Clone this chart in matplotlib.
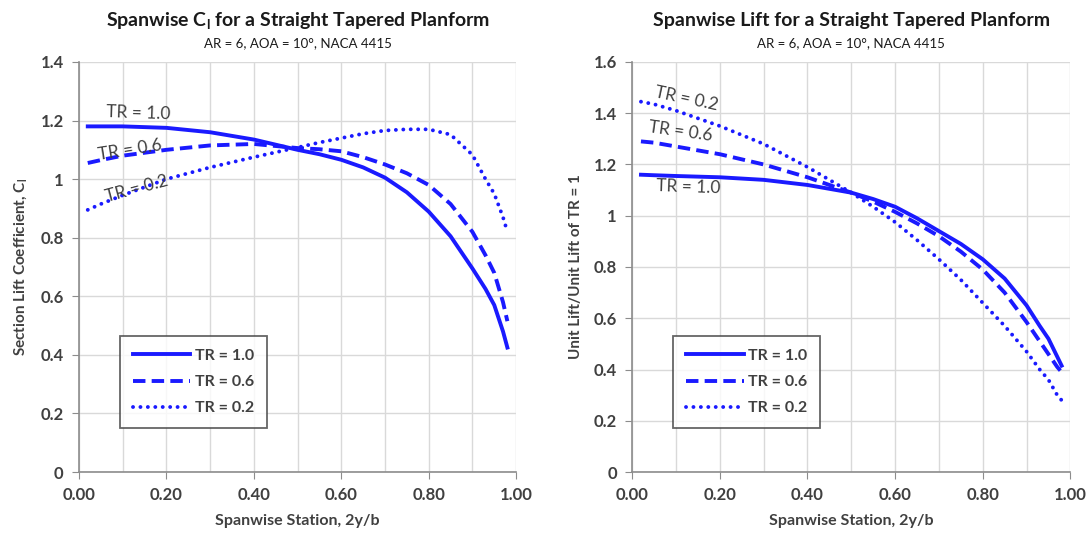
"""Spanwise Cl and unit lift for a straight tapered planform (AR=6, AOA=10 deg)."""

import matplotlib

matplotlib.use("Agg")
import matplotlib.pyplot as plt
from matplotlib.ticker import MultipleLocator

plt.rcParams["font.family"] = ["Lato", "DejaVu Sans"]
plt.rcParams["mathtext.default"] = "regular"

# spanwise station 2y/b
STATION = [0.02, 0.05, 0.10, 0.20, 0.30, 0.40, 0.50, 0.55, 0.60, 0.65, 0.70,
           0.75, 0.80, 0.85, 0.90, 0.93, 0.95, 0.97, 0.98]

# section lift coefficient
CL_TR10 = [1.180, 1.180, 1.180, 1.175, 1.160, 1.135, 1.100, 1.085, 1.066, 1.040,
           1.005, 0.955, 0.889, 0.805, 0.695, 0.625, 0.570, 0.480, 0.425]
CL_TR06 = [1.055, 1.065, 1.080, 1.100, 1.115, 1.120, 1.106, 1.102, 1.095, 1.075,
           1.050, 1.020, 0.980, 0.915, 0.820, 0.740, 0.680, 0.580, 0.515]
CL_TR02 = [0.895, 0.915, 0.945, 1.000, 1.040, 1.075, 1.108, 1.125, 1.140, 1.155,
           1.166, 1.170, 1.170, 1.152, 1.083, 1.000, 0.950, 0.870, 0.820]

# unit lift / unit lift of TR = 1
UL_TR10 = [1.160, 1.158, 1.155, 1.150, 1.140, 1.120, 1.090, 1.065, 1.035, 0.990,
           0.940, 0.890, 0.830, 0.755, 0.650, 0.570, 0.520, 0.450, 0.415]
UL_TR06 = [1.290, 1.285, 1.270, 1.240, 1.200, 1.150, 1.090, 1.055, 1.015, 0.970,
           0.920, 0.860, 0.790, 0.700, 0.585, 0.510, 0.460, 0.410, 0.390]
UL_TR02 = [1.445, 1.435, 1.410, 1.350, 1.280, 1.190, 1.090, 1.035, 0.975, 0.905,
           0.830, 0.750, 0.660, 0.570, 0.470, 0.400, 0.360, 0.300, 0.280]

LABELS = ["TR = 1.0", "TR = 0.6", "TR = 0.2"]
SUBTITLE = "AR = 6, AOA = 10°, NACA 4415"

BLUE = "#1a1aff"
TEXT = "#404040"
GRID = "#d9d9d9"
AXIS = "#8c8c8c"
STYLES = [
    dict(linestyle="-"),
    dict(linestyle=(0, (3.2, 1.6))),
    dict(linestyle=(0, (0.01, 1.9)), dash_capstyle="round"),
]


def style_axes(ax, ymax):
    ax.set_xlim(0, 1)
    ax.set_ylim(0, ymax)
    ax.xaxis.set_major_locator(MultipleLocator(0.2))
    ax.xaxis.set_minor_locator(MultipleLocator(0.1))
    ax.yaxis.set_major_locator(MultipleLocator(0.2))
    ax.xaxis.set_major_formatter(lambda v, _: f"{v:.2f}")
    ax.yaxis.set_major_formatter(lambda v, _: f"{v:.1f}".rstrip("0").rstrip(".") if v else "0")
    ax.grid(True, which="both", color=GRID, linewidth=1.0)
    ax.set_axisbelow(True)
    for side in ("top", "right"):
        ax.spines[side].set_visible(False)
    for side in ("left", "bottom"):
        ax.spines[side].set_color(AXIS)
        ax.spines[side].set_linewidth(1.2)
    ax.tick_params(which="major", direction="out", length=5, color=AXIS,
                   labelsize=12, labelcolor=TEXT, pad=6)
    ax.tick_params(which="minor", length=0)
    for lab in ax.get_xticklabels() + ax.get_yticklabels():
        lab.set_fontweight("bold")
    ax.set_xlabel("Spanwise Station, 2y/b", fontsize=11.5, fontweight="bold",
                  color=TEXT, labelpad=8)


def draw_series(ax, series):
    handles = []
    for ys, st, lab in zip(series, STYLES, LABELS):
        (h,) = ax.plot(STATION, ys, color=BLUE, linewidth=2.8, label=lab, **st)
        handles.append(h)
    leg = ax.legend(handles=handles, loc="lower left", bbox_to_anchor=(0.094, 0.107),
                    borderaxespad=0, frameon=True, fancybox=False, borderpad=0.8,
                    labelspacing=0.75, handlelength=3.6, handletextpad=0.3,
                    fontsize=11.5)
    leg.get_frame().set_edgecolor("#404040")
    leg.get_frame().set_linewidth(1.3)
    for t in leg.get_texts():
        t.set_color(TEXT)
        t.set_fontweight("bold")


fig = plt.figure(figsize=(10.9, 5.41), dpi=100)
ax1 = fig.add_axes([0.0725, 0.1275, 0.401, 0.758])
ax2 = fig.add_axes([0.580, 0.1275, 0.402, 0.758])

# left panel
draw_series(ax1, [CL_TR10, CL_TR06, CL_TR02])
style_axes(ax1, 1.4)
ax1.set_ylabel("Section Lift Coefficient, C$_l$", fontsize=11, fontweight="bold",
               color=TEXT, labelpad=8)
fig.text(0.273, 0.962, "Spanwise C$_l$ for a Straight Tapered Planform",
         ha="center", va="center", fontsize=14, fontweight="bold", color="#1a1a1a")
fig.text(0.273, 0.920, SUBTITLE, ha="center", va="center", fontsize=9.5, color="#1a1a1a")
ann = dict(color=TEXT, fontsize=12.5, ha="center", va="center", rotation_mode="anchor")
ax1.text(0.135, 1.225, "TR = 1.0", rotation=-2, **ann)
ax1.text(0.117, 1.100, "TR = 0.6", rotation=9, **ann)
ax1.text(0.133, 0.968, "TR = 0.2", rotation=15, **ann)

# right panel
draw_series(ax2, [UL_TR10, UL_TR06, UL_TR02])
style_axes(ax2, 1.6)
ax2.set_ylabel("Unit Lift/Unit Lift of TR = 1", fontsize=11, fontweight="bold",
               color=TEXT, labelpad=8)
fig.text(0.781, 0.962, "Spanwise Lift for a Straight Tapered Planform",
         ha="center", va="center", fontsize=14, fontweight="bold", color="#1a1a1a")
fig.text(0.781, 0.920, SUBTITLE, ha="center", va="center", fontsize=9.5, color="#1a1a1a")
ax2.text(0.123, 1.455, "TR = 0.2", rotation=-12, **ann)
ax2.text(0.110, 1.327, "TR = 0.6", rotation=-8, **ann)
ax2.text(0.128, 1.112, "TR = 1.0", rotation=-2, **ann)

fig.savefig("out.png", dpi=100)
